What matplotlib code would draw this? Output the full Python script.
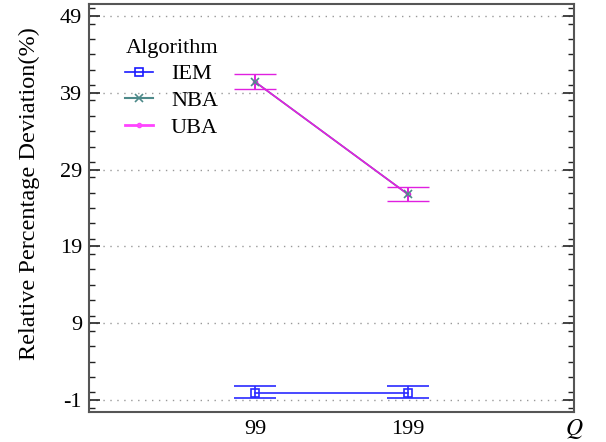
import matplotlib
matplotlib.use("Agg")
import matplotlib.pyplot as plt
from matplotlib.ticker import MultipleLocator
from matplotlib.lines import Line2D

plt.rcParams['font.family'] = ['Liberation Serif', 'DejaVu Serif']
plt.rcParams['mathtext.fontset'] = 'stix'
plt.rcParams['axes.unicode_minus'] = False

q = [99, 199]
iem = [-0.05, -0.05]
iem_lo = [-0.75, -0.75]
iem_hi = [0.85, 0.85]
nba = [40.4, 25.8]
uba = [40.4, 25.8]
uba_lo = [39.5, 24.95]
uba_hi = [41.4, 26.7]
yticks = [-1, 9, 19, 29, 39, 49]
names = ['IEM', 'NBA', 'UBA']

c_iem = '#2a2aff'
c_nba = '#4e8a8a'
c_uba = '#e020e0'

fig = plt.figure(figsize=(6.06, 4.42), dpi=100)
ax = fig.add_axes([89/606, 1 - 412/442, (574-89)/606, (412-4)/442])

def err(v, lo, hi):
    return [[a - b for a, b in zip(v, lo)], [b - a for a, b in zip(v, hi)]]

ax.errorbar(q, iem, yerr=err(iem, iem_lo, iem_hi), color=c_iem, marker='s', ms=6,
            mfc='none', mew=1.2, lw=1.2, capsize=15, capthick=1.5, elinewidth=1.2, zorder=3)
ax.plot(q, nba, color=c_nba, lw=1.2, zorder=2)
ax.errorbar(q, uba, yerr=err(uba, uba_lo, uba_hi), color=c_uba, marker='o', ms=3,
            mfc='none', mew=1.0, lw=1.2, capsize=15, capthick=1.8, elinewidth=1.4, zorder=3)
ax.plot(q, nba, linestyle='none', marker='x', ms=6, mew=1.2, color=c_nba, zorder=4)

ax.set_xlim(-10, 308)
ax.set_ylim(-2.55, 50.55)
ax.set_xticks(q)
ax.set_xticklabels([str(v) for v in q])
ax.set_yticks(yticks)
ax.yaxis.set_minor_locator(MultipleLocator(2))
ax.tick_params(axis='x', length=0, labelsize=16, pad=6)
ax.tick_params(axis='y', which='major', direction='in', length=8, width=1.2,
               labelsize=16, right=True, color='#222222', pad=5)
ax.tick_params(axis='y', which='minor', direction='in', length=4, width=1.0,
               right=True, color='#222222')
ax.grid(axis='y', which='major', linestyle=(0, (1, 4)), color='#999999', lw=1.0)
for s in ax.spines.values():
    s.set_color('#555555')
    s.set_linewidth(1.5)

ax.set_ylabel('Relative Percentage Deviation(%)', fontsize=17.5, labelpad=14)
ax.yaxis.set_label_coords(-0.1, 0.535)
fig.text(574/606, 1 - 429/442, '$Q$', fontsize=17, ha='center', va='center')

handles = [
    Line2D([], [], color='#1a1aff', marker='s', ms=6, mfc='none', mew=1.2, lw=1.2),
    Line2D([], [], color=c_nba, marker='x', ms=6, mew=1.2, lw=1.5),
    Line2D([], [], color='#ff44ff', marker='o', ms=3, mfc='none', mew=1.0, lw=2.0),
]
leg = ax.legend(handles, names, title='Algorithm', loc='upper left',
                bbox_to_anchor=(0.075, 0.915), frameon=False, fontsize=16,
                title_fontsize=16, handlelength=1.25, handletextpad=0.8,
                labelspacing=0.28, borderaxespad=0, borderpad=0)

fig.savefig('out.png', dpi=100)
